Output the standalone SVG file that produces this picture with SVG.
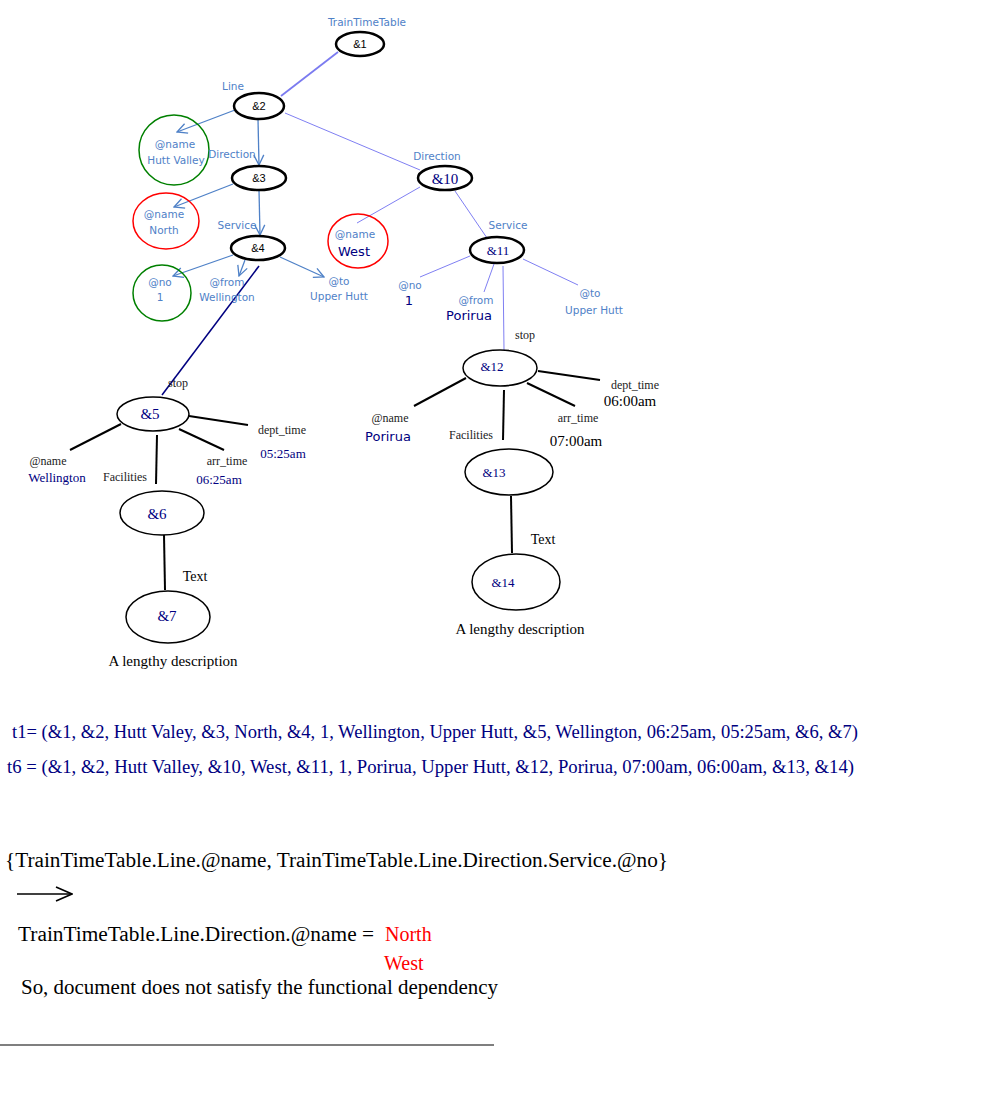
<svg xmlns="http://www.w3.org/2000/svg" width="1005" height="1093" viewBox="0 0 1005 1093">
<style>
.bg{fill:#fff}
.n{fill:#fff;stroke:#000;stroke-width:2.5}
.n2{fill:#fff;stroke:#000;stroke-width:1.5}
.cg{fill:none;stroke:#008000;stroke-width:1.5}
.cr{fill:none;stroke:#ff0000;stroke-width:1.5}
.lb{font-family:"DejaVu Sans","Liberation Sans",sans-serif;font-size:10.5px;fill:#4f81c7;text-anchor:middle}
.ln{font-family:"DejaVu Sans","Liberation Sans",sans-serif;font-size:13px;fill:#000080;text-anchor:middle}
.nk{font-family:"Liberation Sans",Arial,sans-serif;font-size:11px;fill:#000;text-anchor:middle}
.ns{font-family:"Liberation Serif","Times New Roman",serif;font-size:15px;fill:#000080;text-anchor:middle}
.ss{font-family:"Liberation Serif","Times New Roman",serif;font-size:12px;fill:#222;text-anchor:middle}
.sn{font-family:"Liberation Serif","Times New Roman",serif;font-size:13px;fill:#000080;text-anchor:middle}
.sb{font-family:"Liberation Serif","Times New Roman",serif;font-size:15px;fill:#000;text-anchor:middle}
.big{font-family:"Liberation Serif","Times New Roman",serif;font-size:19px;fill:#000080}
.bk{font-family:"Liberation Serif","Times New Roman",serif;font-size:20px;fill:#000}
.rd{font-family:"Liberation Serif","Times New Roman",serif;font-size:20px;fill:#ff0000}
.ca{stroke:#4f81c7;stroke-width:1.3;fill:none}
.cb{stroke:#7070f0;stroke-width:0.9;fill:none}
.ck{stroke:#000;stroke-width:2;fill:none}
</style>
<defs>
<marker id="ah" viewBox="0 0 12 12" refX="11" refY="6" markerWidth="12" markerHeight="12" markerUnits="userSpaceOnUse" orient="auto">
<path d="M1,1 L11,6 L1,11" fill="none" stroke="#4f81c7" stroke-width="1.3"/>
</marker>
<marker id="ak" viewBox="0 0 20 16" refX="19" refY="8" markerWidth="20" markerHeight="16" markerUnits="userSpaceOnUse" orient="auto">
<path d="M3,1 L19,8 L3,15" fill="none" stroke="#000" stroke-width="1.6"/>
</marker>
</defs>
<rect class="bg" x="0" y="0" width="1005" height="1093"/>
<g id="connectors">
<line x1="338" y1="52" x2="281" y2="96" stroke="#7b7bf0" stroke-width="1.8"/>
<line class="ca" x1="235" y1="110" x2="177" y2="132" marker-end="url(#ah)"/>
<line class="ca" x1="258" y1="119" x2="259" y2="165" marker-end="url(#ah)"/>
<line class="cb" x1="285" y1="113" x2="420" y2="170"/>
<line class="ca" x1="233" y1="184" x2="174" y2="207" marker-end="url(#ah)"/>
<line class="ca" x1="259" y1="190" x2="260" y2="235" marker-end="url(#ah)"/>
<line class="ca" x1="233" y1="255" x2="173" y2="276" marker-end="url(#ah)"/>
<line class="ca" x1="245" y1="260" x2="239" y2="276" marker-end="url(#ah)"/>
<line class="ca" x1="280" y1="257" x2="324" y2="277" marker-end="url(#ah)"/>
<line x1="259" y1="266" x2="162" y2="395" stroke="#000080" stroke-width="1.6"/>
<line class="cb" x1="420" y1="187" x2="357" y2="223"/>
<line class="cb" x1="455" y1="191" x2="487" y2="238"/>
<line class="cb" x1="470" y1="256" x2="420" y2="277"/>
<line class="cb" x1="494" y1="264" x2="484" y2="292"/>
<line class="cb" x1="523" y1="259" x2="578" y2="285"/>
<line class="cb" x1="503" y1="266" x2="504" y2="350"/>
<line class="ck" x1="189" y1="416" x2="248" y2="425"/>
<line class="ck" x1="121" y1="424" x2="70" y2="450"/>
<line class="ck" x1="157" y1="435" x2="156" y2="484"/>
<line class="ck" x1="179" y1="429" x2="224" y2="450"/>
<line class="ck" x1="164" y1="535" x2="165" y2="590"/>
<line class="ck" x1="538" y1="371" x2="600" y2="380"/>
<line class="ck" x1="466" y1="378" x2="414" y2="406"/>
<line class="ck" x1="504" y1="390" x2="503" y2="440"/>
<line class="ck" x1="527" y1="383" x2="575" y2="406"/>
<line class="ck" x1="511" y1="496" x2="512" y2="553"/>
<line x1="17" y1="894" x2="72" y2="894" stroke="#000" stroke-width="1.6" marker-end="url(#ak)"/>
<line x1="0" y1="1045" x2="494" y2="1045" stroke="#000" stroke-width="1.2"/>
</g>
<g id="n1"><ellipse class="n" cx="360" cy="44" rx="24" ry="12"/><text class="nk" x="360" y="48">&amp;1</text><text class="lb" x="367" y="26">TrainTimeTable</text></g>
<g id="n2"><ellipse class="n" cx="259" cy="106" rx="25" ry="13"/><text class="nk" x="259" y="110">&amp;2</text><text class="lb" x="233" y="90">Line</text></g>
<g id="hv"><circle class="cg" cx="174" cy="150" r="35"/><text class="lb" x="175" y="148">@name</text><text class="lb" x="176" y="164">Hutt Valley</text></g>
<g id="n3"><ellipse class="n" cx="259" cy="178" rx="27" ry="12"/><text class="nk" x="259" y="182">&amp;3</text><text class="lb" x="232" y="158">Direction</text></g>
<g id="north"><ellipse class="cr" cx="166" cy="221" rx="33" ry="28"/><text class="lb" x="164" y="218">@name</text><text class="lb" x="164" y="234">North</text></g>
<g id="n4"><ellipse class="n" cx="258" cy="248" rx="27" ry="12"/><text class="nk" x="258" y="252">&amp;4</text><text class="lb" x="237" y="229">Service</text></g>
<g id="no1"><ellipse class="cg" cx="162" cy="293" rx="29" ry="28"/><text class="lb" x="160" y="286">@no</text><text class="lb" x="160" y="301">1</text></g>
<g id="from1"><text class="lb" x="227" y="286">@from</text><text class="lb" x="227" y="301">Wellington</text></g>
<g id="to1"><text class="lb" x="339" y="285">@to</text><text class="lb" x="339" y="300">Upper Hutt</text></g>
<g id="n10"><ellipse class="n" cx="445" cy="178" rx="27" ry="12"/><text class="ns" x="445" y="184">&amp;10</text><text class="lb" x="437" y="160">Direction</text></g>
<g id="west"><ellipse class="cr" cx="358" cy="241" rx="30" ry="27"/><text class="lb" x="355" y="238">@name</text><text class="ln" x="354" y="256">West</text></g>
<g id="n11"><ellipse class="n" cx="497" cy="250" rx="27" ry="13"/><text class="ns" x="498" y="255" style="font-size:13px">&amp;11</text><text class="lb" x="508" y="229">Service</text></g>
<g id="no2"><text class="lb" x="410" y="289">@no</text><text class="ln" x="409" y="305">1</text></g>
<g id="from2"><text class="lb" x="476" y="304">@from</text><text class="ln" x="469" y="320">Porirua</text></g>
<g id="to2"><text class="lb" x="590" y="297">@to</text><text class="lb" x="594" y="314">Upper Hutt</text></g>
<g id="n5"><ellipse class="n2" cx="153" cy="414" rx="36" ry="17"/><text class="ns" x="150" y="419">&amp;5</text><text class="ss" x="178" y="387">stop</text></g>
<g id="dt1"><text class="ss" x="282" y="434">dept_time</text><text class="sn" x="283" y="458">05:25am</text></g>
<g id="nm1"><text class="ss" x="48" y="465">@name</text><text class="sn" x="57" y="482">Wellington</text></g>
<g id="fac1"><text class="ss" x="125" y="481">Facilities</text></g>
<g id="at1"><text class="ss" x="227" y="465">arr_time</text><text class="sn" x="219" y="484">06:25am</text></g>
<g id="n6"><ellipse class="n2" cx="162" cy="513" rx="42" ry="22"/><text class="ns" x="157" y="519">&amp;6</text></g>
<g id="n7"><ellipse class="n2" cx="168" cy="617" rx="42" ry="26"/><text class="ns" x="167" y="621">&amp;7</text><text class="sb" x="195" y="581" style="font-size:14px">Text</text><text class="sb" x="173" y="666" style="font-size:15px">A lengthy description</text></g>
<g id="n12"><ellipse class="n2" cx="500" cy="368" rx="37" ry="18"/><text class="sn" x="492" y="371">&amp;12</text><text class="ss" x="525" y="339">stop</text></g>
<g id="dt2"><text class="ss" x="635" y="389">dept_time</text><text class="sb" x="630" y="406">06:00am</text></g>
<g id="nm2"><text class="ss" x="390" y="422">@name</text><text class="ln" x="388" y="441">Porirua</text></g>
<g id="fac2"><text class="ss" x="471" y="439">Facilities</text></g>
<g id="at2"><text class="ss" x="578" y="422">arr_time</text><text class="sb" x="576" y="446">07:00am</text></g>
<g id="n13"><ellipse class="n2" cx="509" cy="472" rx="44" ry="23"/><text class="sn" x="494" y="477">&amp;13</text></g>
<g id="n14"><ellipse class="n2" cx="516" cy="582" rx="44" ry="28"/><text class="sn" x="503" y="587">&amp;14</text><text class="sb" x="543" y="544" style="font-size:14px">Text</text><text class="sb" x="520" y="634" style="font-size:15px">A lengthy description</text></g>
<g id="tuples">
<text class="big" x="12" y="738" textLength="846" lengthAdjust="spacingAndGlyphs">t1= (&amp;1, &amp;2, Hutt Valey, &amp;3, North, &amp;4, 1, Wellington, Upper Hutt, &amp;5, Wellington, 06:25am, 05:25am, &amp;6, &amp;7)</text>
<text class="big" x="7" y="773" textLength="847" lengthAdjust="spacingAndGlyphs">t6 = (&amp;1, &amp;2, Hutt Valley, &amp;10, West, &amp;11, 1, Porirua, Upper Hutt, &amp;12,  Porirua, 07:00am, 06:00am, &amp;13, &amp;14)</text>
</g>
<g id="fd">
<text class="bk" x="5" y="867" textLength="663" lengthAdjust="spacingAndGlyphs">{TrainTimeTable.Line.@name, TrainTimeTable.Line.Direction.Service.@no}</text>
<text class="bk" x="18" y="941" textLength="356" lengthAdjust="spacingAndGlyphs">TrainTimeTable.Line.Direction.@name =</text>
<text class="rd" x="385" y="941">North</text>
<text class="rd" x="384" y="970">West</text>
<text class="bk" x="21" y="994" textLength="477" lengthAdjust="spacingAndGlyphs">So, document does not satisfy the functional dependency</text>
</g>
</svg>
